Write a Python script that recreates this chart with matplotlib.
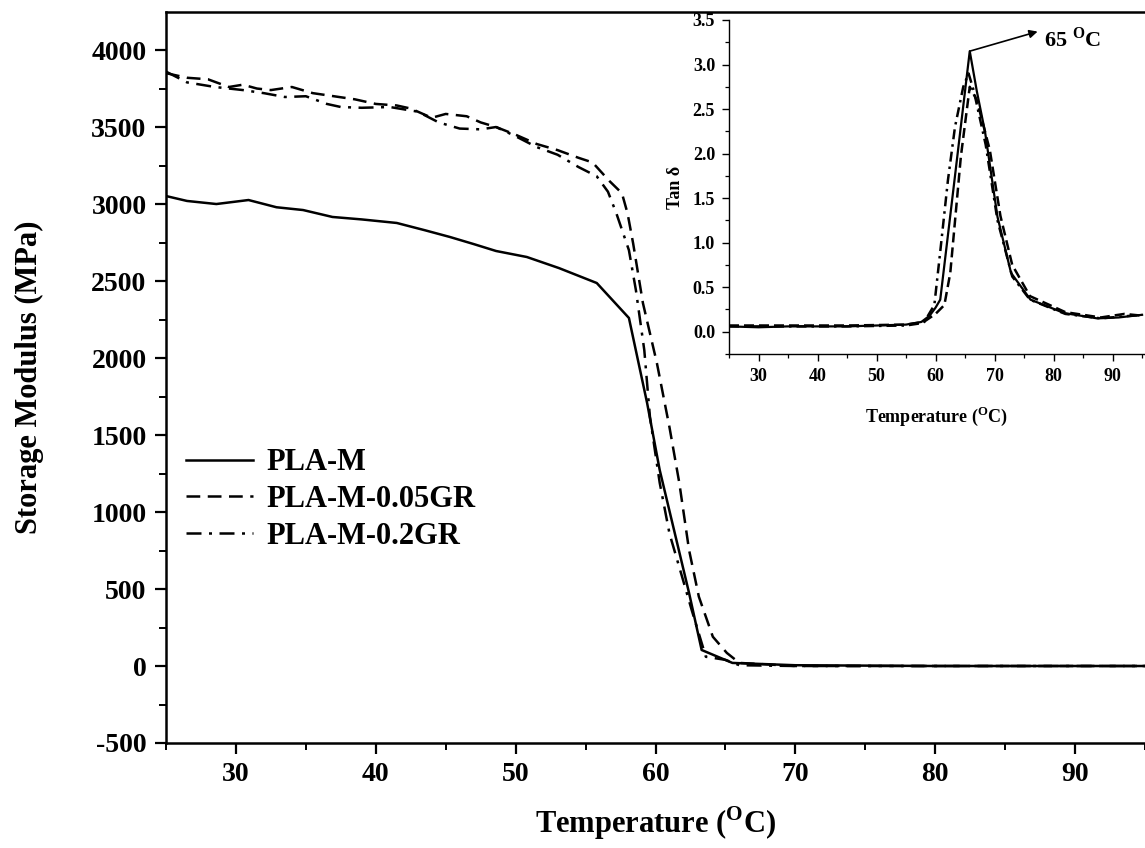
#! /usr/bin/env python3
# storage modulus vs temperature with tan delta inset
import matplotlib
matplotlib.use("Agg")
import matplotlib.pyplot as plt
from matplotlib.ticker import MultipleLocator, FormatStrFormatter

# storage modulus (MPa)
t_plam = [25, 26.5, 28.6, 30.9, 32.9, 34.8, 36.9, 39, 41.5, 43.5, 45.3, 47,
          48.6, 50.8, 53.1, 55.8, 58.1, 59.4, 60.3, 62.4, 63.3, 65.5, 70, 80, 95]
e_plam = [3052, 3020, 3000, 3026, 2979, 2961, 2916, 2900, 2877, 2830, 2786, 2740,
          2695, 2656, 2584, 2487, 2260, 1708, 1273, 474, 104, 20, 5, 0, 0]

t_005 = [25, 26.5, 28, 29.5, 30.5, 31.5, 32.5, 34, 35.5, 37, 38.5, 40, 41.5, 42.5,
         44, 45, 46.5, 47.5, 48.6, 50, 51.5, 53, 54.5, 55.5, 56.7, 57.6, 58.0,
         58.4, 59.1, 60.1, 61.0, 61.7, 62.4, 63.1, 64.1, 65.1, 66, 70, 80, 95]
e_005 = [3850, 3820, 3810, 3760, 3775, 3750, 3740, 3760, 3720, 3700, 3680, 3650,
         3640, 3620, 3560, 3585, 3570, 3530, 3500, 3450, 3390, 3350, 3300, 3270,
         3150, 3070, 2940, 2745, 2357, 1967, 1550, 1190, 753, 450, 190, 85, 20,
         0, 0, 0]

t_02 = [25, 26.5, 28.5, 30.5, 32, 33.5, 35, 36.5, 37.5, 39, 41, 43, 44.5, 46,
        47.5, 48.6, 50, 51.5, 53, 54.5, 55.8, 56.6, 57.2, 58.1, 58.6, 59.2, 59.6,
        60.3, 61.0, 61.9, 62.6, 63.6, 65, 66, 70, 80, 95]
e_02 = [3860, 3790, 3760, 3740, 3720, 3695, 3700, 3650, 3630, 3625, 3630, 3600,
        3530, 3490, 3485, 3500, 3440, 3370, 3320, 3240, 3180, 3080, 2940, 2700,
        2440, 2050, 1620, 1190, 860, 580, 360, 60, 40, 5, 0, 0, 0]

# tan delta
tt_plam = [25, 30, 35, 40, 45, 50, 55, 57.6, 59, 60, 60.8, 63.3, 65.8, 67, 68.4,
           70.5, 72.8, 76.1, 81.8, 87.4, 91, 95]
tan_plam = [0.06, 0.05, 0.06, 0.06, 0.06, 0.07, 0.08, 0.11, 0.18, 0.27, 0.36,
            1.75, 3.15, 2.7, 2.24, 1.29, 0.66, 0.36, 0.21, 0.15, 0.16, 0.19]

tt_005 = [25, 35, 45, 55, 58, 60, 61.5, 62.5, 64.3, 65.8, 67, 69.2, 71, 73, 76,
          82, 88, 92, 95]
tan_005 = [0.07, 0.07, 0.07, 0.08, 0.11, 0.2, 0.3, 0.66, 1.97, 2.75, 2.6, 2.04,
           1.3, 0.75, 0.4, 0.22, 0.16, 0.2, 0.18]

tt_02 = [25, 35, 45, 55, 58, 59.8, 60.8, 62.1, 63.3, 64.7, 65.6, 66.5, 68.5, 70.5,
         73, 76, 82, 88, 95]
tan_02 = [0.06, 0.06, 0.06, 0.07, 0.1, 0.3, 0.9, 1.7, 2.3, 2.75, 2.9, 2.7, 2.1,
          1.25, 0.62, 0.36, 0.2, 0.15, 0.19]

labels = ["PLA-M", "PLA-M-0.05GR", "PLA-M-0.2GR"]

plt.rcParams['font.family'] = ['Liberation Serif', 'DejaVu Serif']
plt.rcParams['font.weight'] = 'bold'
plt.rcParams['mathtext.fontset'] = 'custom'
plt.rcParams['mathtext.rm'] = 'Liberation Serif:bold'
plt.rcParams['mathtext.bf'] = 'Liberation Serif:bold'
plt.rcParams['axes.unicode_minus'] = False

dash = (0, (5.5, 3))
dashdot = (0, (6, 3, 1.2, 3))

fig = plt.figure(figsize=(11.45, 8.48), dpi=100)
ax = fig.add_axes([166 / 1145, 1 - 743 / 848, 979 / 1145, 731 / 848])

ax.plot(t_plam, e_plam, color='k', lw=1.8, linestyle='-', label=labels[0])
ax.plot(t_005, e_005, color='k', lw=1.8, linestyle=dash, label=labels[1])
ax.plot(t_02, e_02, color='k', lw=1.8, linestyle=dashdot, label=labels[2])

ax.set_xlim(25, 95)
ax.set_ylim(-500, 4247)
ax.xaxis.set_major_locator(MultipleLocator(10))
ax.xaxis.set_minor_locator(MultipleLocator(5))
ax.yaxis.set_major_locator(MultipleLocator(500))
ax.yaxis.set_minor_locator(MultipleLocator(250))
ax.set_xticks([30, 40, 50, 60, 70, 80, 90])
ax.tick_params(which='major', direction='out', length=8, width=1.6, labelsize=20, pad=6)
ax.tick_params(which='minor', direction='out', length=5, width=1.4)
ax.spines['right'].set_visible(False)
for s in ['left', 'bottom', 'top']:
    ax.spines[s].set_linewidth(1.8)
ax.set_xlabel(r"Temperature ($^{\mathbf{O}}$C)", fontsize=22, fontweight='bold', labelpad=12)
ax.set_ylabel("Storage Modulus (MPa)", fontsize=22, fontweight='bold')
ax.yaxis.set_label_coords(-0.125, 0.5)

leg = ax.legend(loc='upper left', bbox_to_anchor=(0.02, 0.403), frameon=False,
                fontsize=22, handlelength=2.2, handletextpad=0.45, labelspacing=0.25,
                borderpad=0, borderaxespad=0)

# inset with tan delta
ins = fig.add_axes([729 / 1145, 1 - 354 / 848, 416 / 1145, 334 / 848])
ins.patch.set_alpha(0)
ins.plot(tt_plam, tan_plam, color='k', lw=1.6, linestyle='-')
ins.plot(tt_005, tan_005, color='k', lw=1.8, linestyle=(0, (4, 2)))
ins.plot(tt_02, tan_02, color='k', lw=1.8, linestyle=(0, (4, 2, 1, 2)))
ins.set_xlim(25, 95.5)
ins.set_ylim(-0.25, 3.5)
ins.xaxis.set_major_locator(MultipleLocator(10))
ins.xaxis.set_minor_locator(MultipleLocator(5))
ins.yaxis.set_major_locator(MultipleLocator(0.5))
ins.yaxis.set_minor_locator(MultipleLocator(0.25))
ins.set_xticks([30, 40, 50, 60, 70, 80, 90])
ins.set_yticks([0.0, 0.5, 1.0, 1.5, 2.0, 2.5, 3.0, 3.5])
ins.yaxis.set_major_formatter(FormatStrFormatter('%.1f'))
ins.tick_params(which='major', direction='out', length=5, width=1.0, labelsize=13, pad=5)
ins.tick_params(which='minor', direction='out', length=3, width=0.9)
ins.spines['right'].set_visible(False)
ins.spines['top'].set_visible(False)
ins.spines['left'].set_linewidth(1.0)
ins.spines['bottom'].set_linewidth(1.0)
ins.set_xlabel(r"Temperature ($^{\mathbf{O}}$C)", fontsize=13, fontweight='bold', labelpad=14)
ins.set_ylabel(r"Tan δ", fontsize=13, fontweight='bold', labelpad=6)

ins.annotate('', xy=(77.3, 3.37), xytext=(65.8, 3.15),
             arrowprops=dict(arrowstyle='-|>', lw=1.2, color='k', mutation_scale=12,
                             shrinkA=0, shrinkB=0), annotation_clip=False)
ins.text(78.3, 3.28, r"65 $^{\mathbf{O}}$C", fontsize=16, fontweight='bold',
         va='center', ha='left')

plt.savefig("out.png", dpi=100)
plt.close('all')
